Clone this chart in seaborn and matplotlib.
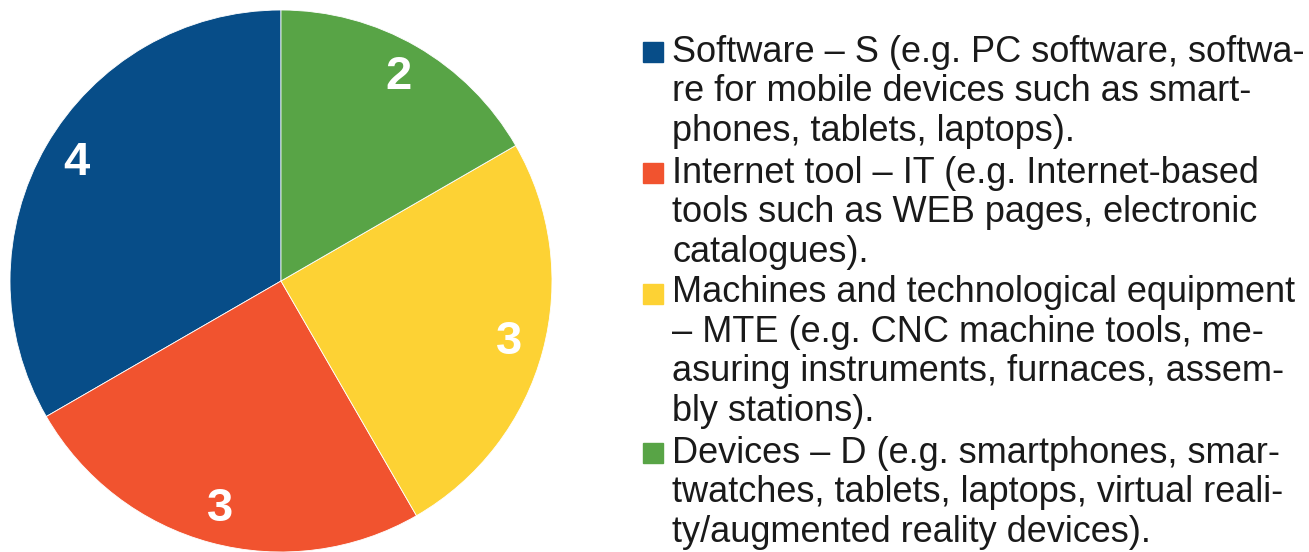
import numpy as np
import seaborn as sns
import matplotlib.pyplot as plt
from matplotlib.patches import Rectangle

# data (legend order, pie drawn counter-clockwise from 12 o'clock)
categories = ['S', 'IT', 'MTE', 'D']
counts = [4, 3, 3, 2]
colors = ['#074d88', '#f1532f', '#fdd234', '#58a446']
legend_labels = [
    'Software – S (e.g. PC software, softwa-\nre for mobile devices such as smart-\nphones, tablets, laptops).',
    'Internet tool – IT (e.g. Internet-based\ntools such as WEB pages, electronic\ncatalogues).',
    'Machines and technological equipment\n– MTE (e.g. CNC machine tools, me-\nasuring instruments, furnaces, assem-\nbly stations).',
    'Devices – D (e.g. smartphones, smar-\ntwatches, tablets, laptops, virtual reali-\nty/augmented reality devices).',
]

sns.set_theme(style='white')
plt.rcParams['font.family'] = ['Liberation Sans', 'DejaVu Sans']

W, H = 1309, 552
fig = plt.figure(figsize=(W / 100, H / 100), dpi=100)

# pie axes: centre (281, 281 from top), radius 271 px
r = 271
ax = fig.add_axes([(281 - r) / W, 0, 2 * r / W, 2 * r / H])
total = sum(counts)
ax.pie(counts, colors=colors, startangle=90, counterclock=True, radius=1,
       autopct=lambda p: '{:.0f}'.format(p * total / 100), pctdistance=0.87,
       wedgeprops=dict(linewidth=0.6, edgecolor='white'),
       textprops=dict(color='white', fontsize=34, fontweight='bold'))
ax.set_xlim(-1, 1)
ax.set_ylim(-1, 1)
ax.set_aspect('equal')
ax.axis('off')

# legend drawn by hand so multi-line labels sit like the original
line_h = 38
base = 65  # baseline of first line, px from top
for lab, col in zip(legend_labels, colors):
    n = lab.count('\n') + 1
    last_base = base + (n - 1) * line_h
    fig.text(672 / W, 1 - last_base / H, lab, fontsize=26, color='#1a1a1a',
             va='baseline', ha='left', linespacing=1.17)
    fig.patches.append(Rectangle((643 / W, 1 - (base - 3) / H), 20 / W, 20 / H,
                                 transform=fig.transFigure, color=col))
    base += n * line_h + 7

fig.savefig('out.png', dpi=100)
